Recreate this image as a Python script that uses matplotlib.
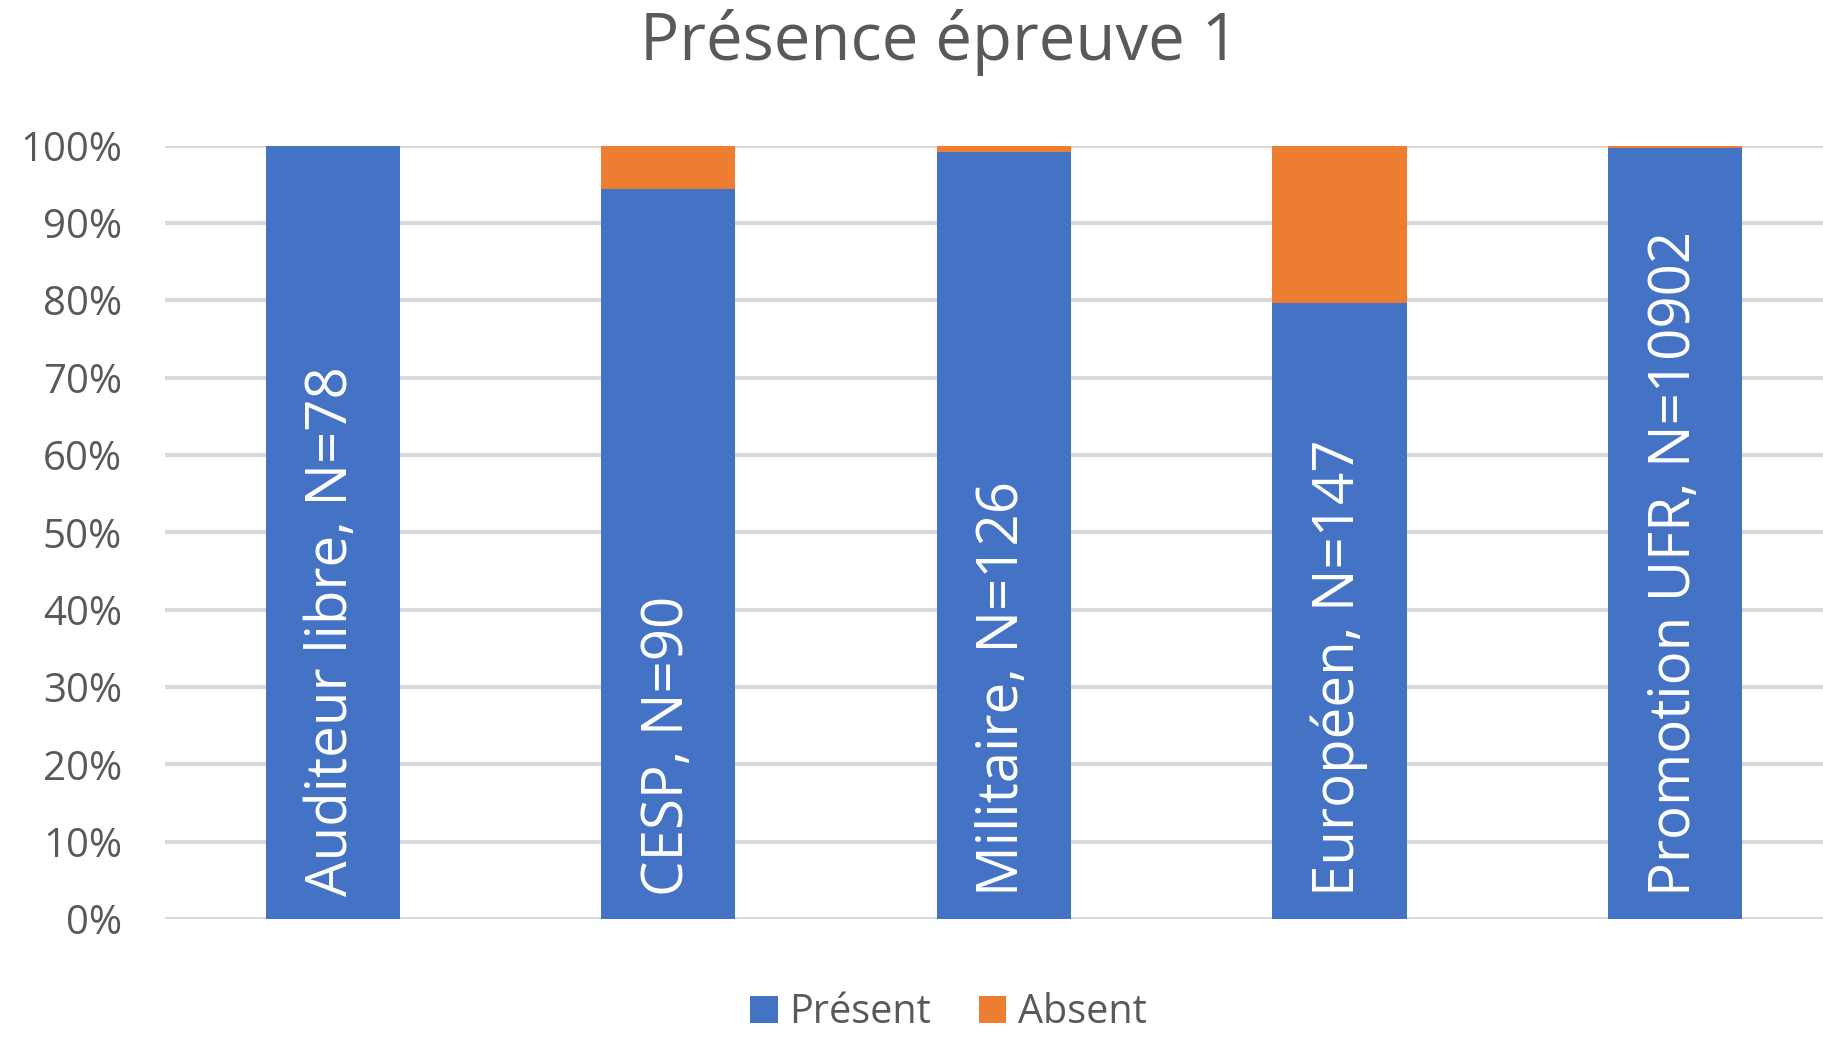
import matplotlib.pyplot as plt
import numpy as np

categories = ['Auditeur libre, N=78', 'CESP, N=90', 'Militaire, N=126',
              'Européen, N=147', 'Promotion UFR, N=10902']
present = [100.0, 94.4, 99.2, 79.6, 99.7]
absent = [0.0, 5.6, 0.8, 20.4, 0.3]
yticks = [0, 10, 20, 30, 40, 50, 60, 70, 80, 90, 100]

plt.rcParams['font.family'] = ['Open Sans', 'DejaVu Sans']
grey = '#595959'
blue = '#4472C4'
orange = '#ED7D31'

fig = plt.figure(figsize=(18.24, 10.41), dpi=100)
ax = fig.add_axes([0.0905, 0.1172, 1.0103 - 0.0905, 0.8602 - 0.1172])

x = np.arange(len(categories))
ax.bar(x, present, width=0.4, color=blue, label='Présent', zorder=2)
ax.bar(x, absent, width=0.4, bottom=present, color=orange, label='Absent', zorder=2)

# category names written upright inside each bar
for xi, name in zip(x, categories):
    ax.text(xi, 3, name, rotation=90, ha='center', va='bottom',
            color='white', fontsize=40.6, zorder=3)

ax.set_xlim(-0.5, 4.5)
ax.set_ylim(0, 100)
ax.set_yticks(yticks)
ax.set_yticklabels([f'{v}%' for v in yticks], fontsize=29, color=grey)
ax.tick_params(axis='x', length=0, labelbottom=False)
ax.tick_params(axis='y', length=0, pad=31)
ax.grid(axis='y', color='#D9D9D9', linewidth=3, zorder=0)
for s in ax.spines.values():
    s.set_visible(False)

fig.text(0.515, 0.959, 'Présence épreuve 1', ha='center', va='center',
         fontsize=47, color=grey)

fig.legend(loc='lower center', bbox_to_anchor=(0.52, -0.027), ncol=2, frameon=False,
           fontsize=28.5, labelcolor=grey, handlelength=0.7, handleheight=0.7,
           handletextpad=0.3, columnspacing=1.2)

fig.savefig('out.png', dpi=100)
